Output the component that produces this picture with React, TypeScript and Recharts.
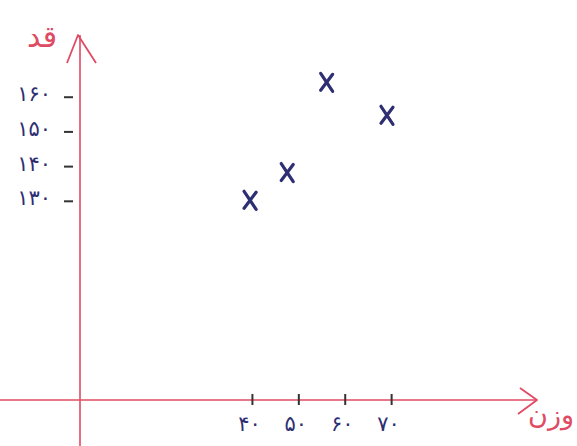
import React from 'react';
import { ScatterChart, Scatter, XAxis, YAxis } from 'recharts';

// Weight (x) and height (y) readings
const weights = [39.5, 47.5, 56, 69];
const heights = [130, 138, 164, 154.5];

const xTicks = [40, 50, 60, 70];
const xTickLabels = ['۴۰', '۵۰', '۶۰', '۷۰'];
const yTicks = [130, 140, 150, 160];
const yTickLabels = ['۱۳۰', '۱۴۰', '۱۵۰', '۱۶۰'];

const xTitle = 'وزن';
const yTitle = 'قد';

const points = weights.map((w, i) => ({ w, h: heights[i] }));

const AXIS_RED = '#e04a62';
const INK = '#2e2f72';
const FONT = '"DejaVu Sans", sans-serif';

const XMark = (props: any) => {
  const { cx, cy } = props;
  return (
    <g stroke={INK} strokeWidth={3.2} strokeLinecap="round">
      <line x1={cx - 6} y1={cy - 9} x2={cx + 6} y2={cy + 9} />
      <line x1={cx + 6} y1={cy - 8} x2={cx - 6} y2={cy + 8} />
    </g>
  );
};

const XTick = (props: any) => {
  const { x, y, payload } = props;
  const i = xTicks.indexOf(payload.value);
  return (
    <g>
      <line x1={x} y1={y - 6} x2={x} y2={y + 5} stroke="#333" strokeWidth={2} />
      <text x={x - 3} y={y + 31} textAnchor="middle" fill={INK} fontSize={21} fontFamily={FONT}>
        {xTickLabels[i]}
      </text>
    </g>
  );
};

const YTick = (props: any) => {
  const { x, y, payload } = props;
  const i = yTicks.indexOf(payload.value);
  return (
    <g>
      <line x1={x - 16} y1={y + 1} x2={x - 7} y2={y + 1} stroke="#333" strokeWidth={2} />
      <text x={x - 29} y={y + 5} textAnchor="end" fill={INK} fontSize={21} fontFamily={FONT}>
        {yTickLabels[i]}
      </text>
    </g>
  );
};

// Horizontal axis line with arrow head and title, drawn from the axis box
const XAxisDecor = (props: any) => {
  const vb = props.viewBox || { x: 80, y: 400, width: 455, height: 46 };
  const ax = vb.y;
  const tip = vb.x + vb.width + 2;
  return (
    <g>
      <line x1={0} y1={ax} x2={tip} y2={ax} stroke={AXIS_RED} strokeWidth={1.6} />
      <polyline
        points={`${tip - 17},${ax - 12} ${tip},${ax} ${tip - 19},${ax + 14}`}
        fill="none"
        stroke={AXIS_RED}
        strokeWidth={1.8}
        strokeLinejoin="round"
      />
      <text x={tip + 14} y={ax + 24} textAnchor="middle" fill={AXIS_RED} fontSize={27} fontFamily={FONT}>
        {xTitle}
      </text>
    </g>
  );
};

// Vertical axis line with arrow head and title
const YAxisDecor = (props: any) => {
  const vb = props.viewBox || { x: 0, y: 35, width: 80, height: 365 };
  const ax = vb.x + vb.width;
  const tip = vb.y;
  return (
    <g>
      <line x1={ax} y1={tip} x2={ax} y2={446} stroke={AXIS_RED} strokeWidth={1.6} />
      <polyline
        points={`${ax - 13},${tip + 28} ${ax - 2},${tip} ${ax + 16},${tip + 28}`}
        fill="none"
        stroke={AXIS_RED}
        strokeWidth={1.8}
        strokeLinejoin="round"
      />
      <text x={ax - 38} y={tip + 12} textAnchor="middle" fill={AXIS_RED} fontSize={30} fontFamily={FONT}>
        {yTitle}
      </text>
    </g>
  );
};

export default function App() {
  return (
    <div style={{ position: 'absolute', left: 0, top: 0, width: 577, height: 446, background: '#fff' }}>
      <ScatterChart width={577} height={446} margin={{ top: 35, right: 42, left: 0, bottom: 0 }}>
        <XAxis
          type="number"
          dataKey="w"
          domain={[2.84, 100.9]}
          allowDataOverflow
          ticks={xTicks}
          axisLine={false}
          tickLine={false}
          tickSize={0}
          tickMargin={0}
          height={46}
          tick={<XTick />}
          label={<XAxisDecor />}
        />
        <YAxis
          type="number"
          dataKey="h"
          domain={[72.45, 177.64]}
          allowDataOverflow
          ticks={yTicks}
          axisLine={false}
          tickLine={false}
          tickSize={0}
          tickMargin={0}
          width={80}
          tick={<YTick />}
          label={<YAxisDecor />}
        />
        <Scatter data={points} shape={<XMark />} isAnimationActive={false} />
      </ScatterChart>
    </div>
  );
}
